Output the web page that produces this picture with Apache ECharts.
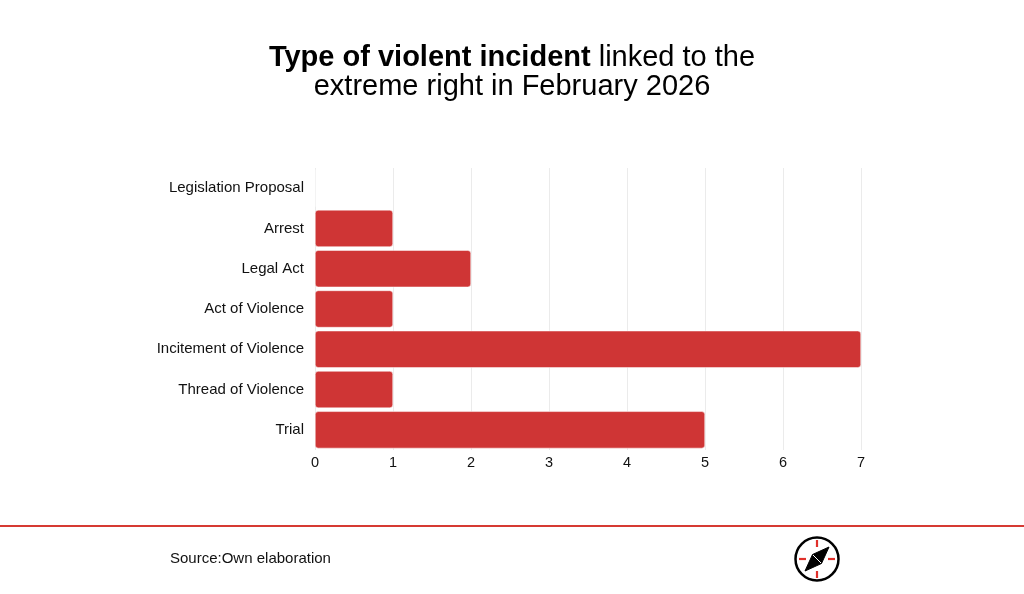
<!DOCTYPE html>
<html>
<head>
<meta charset="utf-8">
<script src="https://cdn.jsdelivr.net/npm/echarts@6/dist/echarts.min.js"></script>
<style>
html,body{margin:0;padding:0;background:#fff;}
#chart{width:1024px;height:594px;}
</style>
</head>
<body>
<div id="chart"></div>
<script>
const categories = ["Legislation Proposal","Arrest","Legal Act","Act of Violence","Incitement of Violence","Thread of Violence","Trial"];
const values = [0, 1, 2, 1, 7, 1, 5];
const xTicks = [0, 1, 2, 3, 4, 5, 6, 7];
const titleBold = "Type of violent incident";
const titleRest1 = " linked to the";
const titleRest2 = "extreme right in February 2026";
const sourceText = "Source:Own elaboration";

const FONT = "'Liberation Sans', Arial, sans-serif";
const chart = echarts.init(document.getElementById('chart'), null, {renderer: 'canvas'});

const cx = 817, cy = 559;
function tick(angleDeg, r1, r2) {
  const a = angleDeg * Math.PI / 180;
  return {
    type: 'line',
    shape: {x1: cx + r1 * Math.cos(a), y1: cy + r1 * Math.sin(a), x2: cx + r2 * Math.cos(a), y2: cy + r2 * Math.sin(a)},
    style: {stroke: '#e0302a', lineWidth: 2.2}
  };
}

chart.setOption({
  backgroundColor: '#ffffff',
  animation: false,
  title: {
    text: '{b|' + titleBold + '}{n|' + titleRest1 + '}\n{n|' + titleRest2 + '}',
    left: 'center',
    top: 38,
    textStyle: {
      rich: {
        b: {fontFamily: FONT, fontSize: 29, fontWeight: 'bold', color: '#000', lineHeight: 29},
        n: {fontFamily: FONT, fontSize: 29, fontWeight: 'normal', color: '#000', lineHeight: 29}
      }
    }
  },
  grid: {left: 315, right: 163, top: 168, bottom: 144, containLabel: false},
  xAxis: {
    type: 'value',
    min: xTicks[0],
    max: xTicks[xTicks.length - 1],
    interval: 1,
    axisLine: {show: false},
    axisTick: {show: false},
    splitLine: {show: true, lineStyle: {color: '#ebebeb', width: 1}},
    axisLabel: {fontFamily: FONT, fontSize: 14.5, color: '#111', margin: 5}
  },
  yAxis: {
    type: 'category',
    inverse: true,
    data: categories,
    axisLine: {show: false},
    axisTick: {show: false},
    splitLine: {show: false},
    axisLabel: {fontFamily: FONT, fontSize: 15, color: '#111', margin: 11, padding: [3, 0, 0, 0]}
  },
  series: [{
    type: 'bar',
    data: values,
    barCategoryGap: '8%',
    itemStyle: {color: '#cf3535', borderRadius: 3, borderColor: '#ffffff', borderWidth: 0.5}
  }],
  graphic: [
    {type: 'rect', shape: {x: 0, y: 525, width: 1024, height: 2}, style: {fill: '#d63a33'}},
    {type: 'text', x: 170, y: 559, style: {text: sourceText, fontFamily: FONT, fontSize: 15, fill: '#111', verticalAlign: 'middle', textAlign: 'left'}},
    {type: 'circle', shape: {cx: cx, cy: cy, r: 21.5}, style: {fill: '#fff', stroke: '#000', lineWidth: 2.5}},
    tick(-90, 12, 19), tick(90, 12, 19), tick(0, 11, 18), tick(180, 11, 18),
    {type: 'polygon', shape: {points: [[805, 571], [cx - 4.5, cy - 4.5], [829, 547], [cx + 4.5, cy + 4.5]]}, style: {fill: '#000', stroke: '#000', lineWidth: 1}},
    {type: 'line', shape: {x1: cx - 4, y1: cy - 4, x2: cx + 4, y2: cy + 4}, style: {stroke: '#fff', lineWidth: 1}}
  ]
});
</script>
</body>
</html>
